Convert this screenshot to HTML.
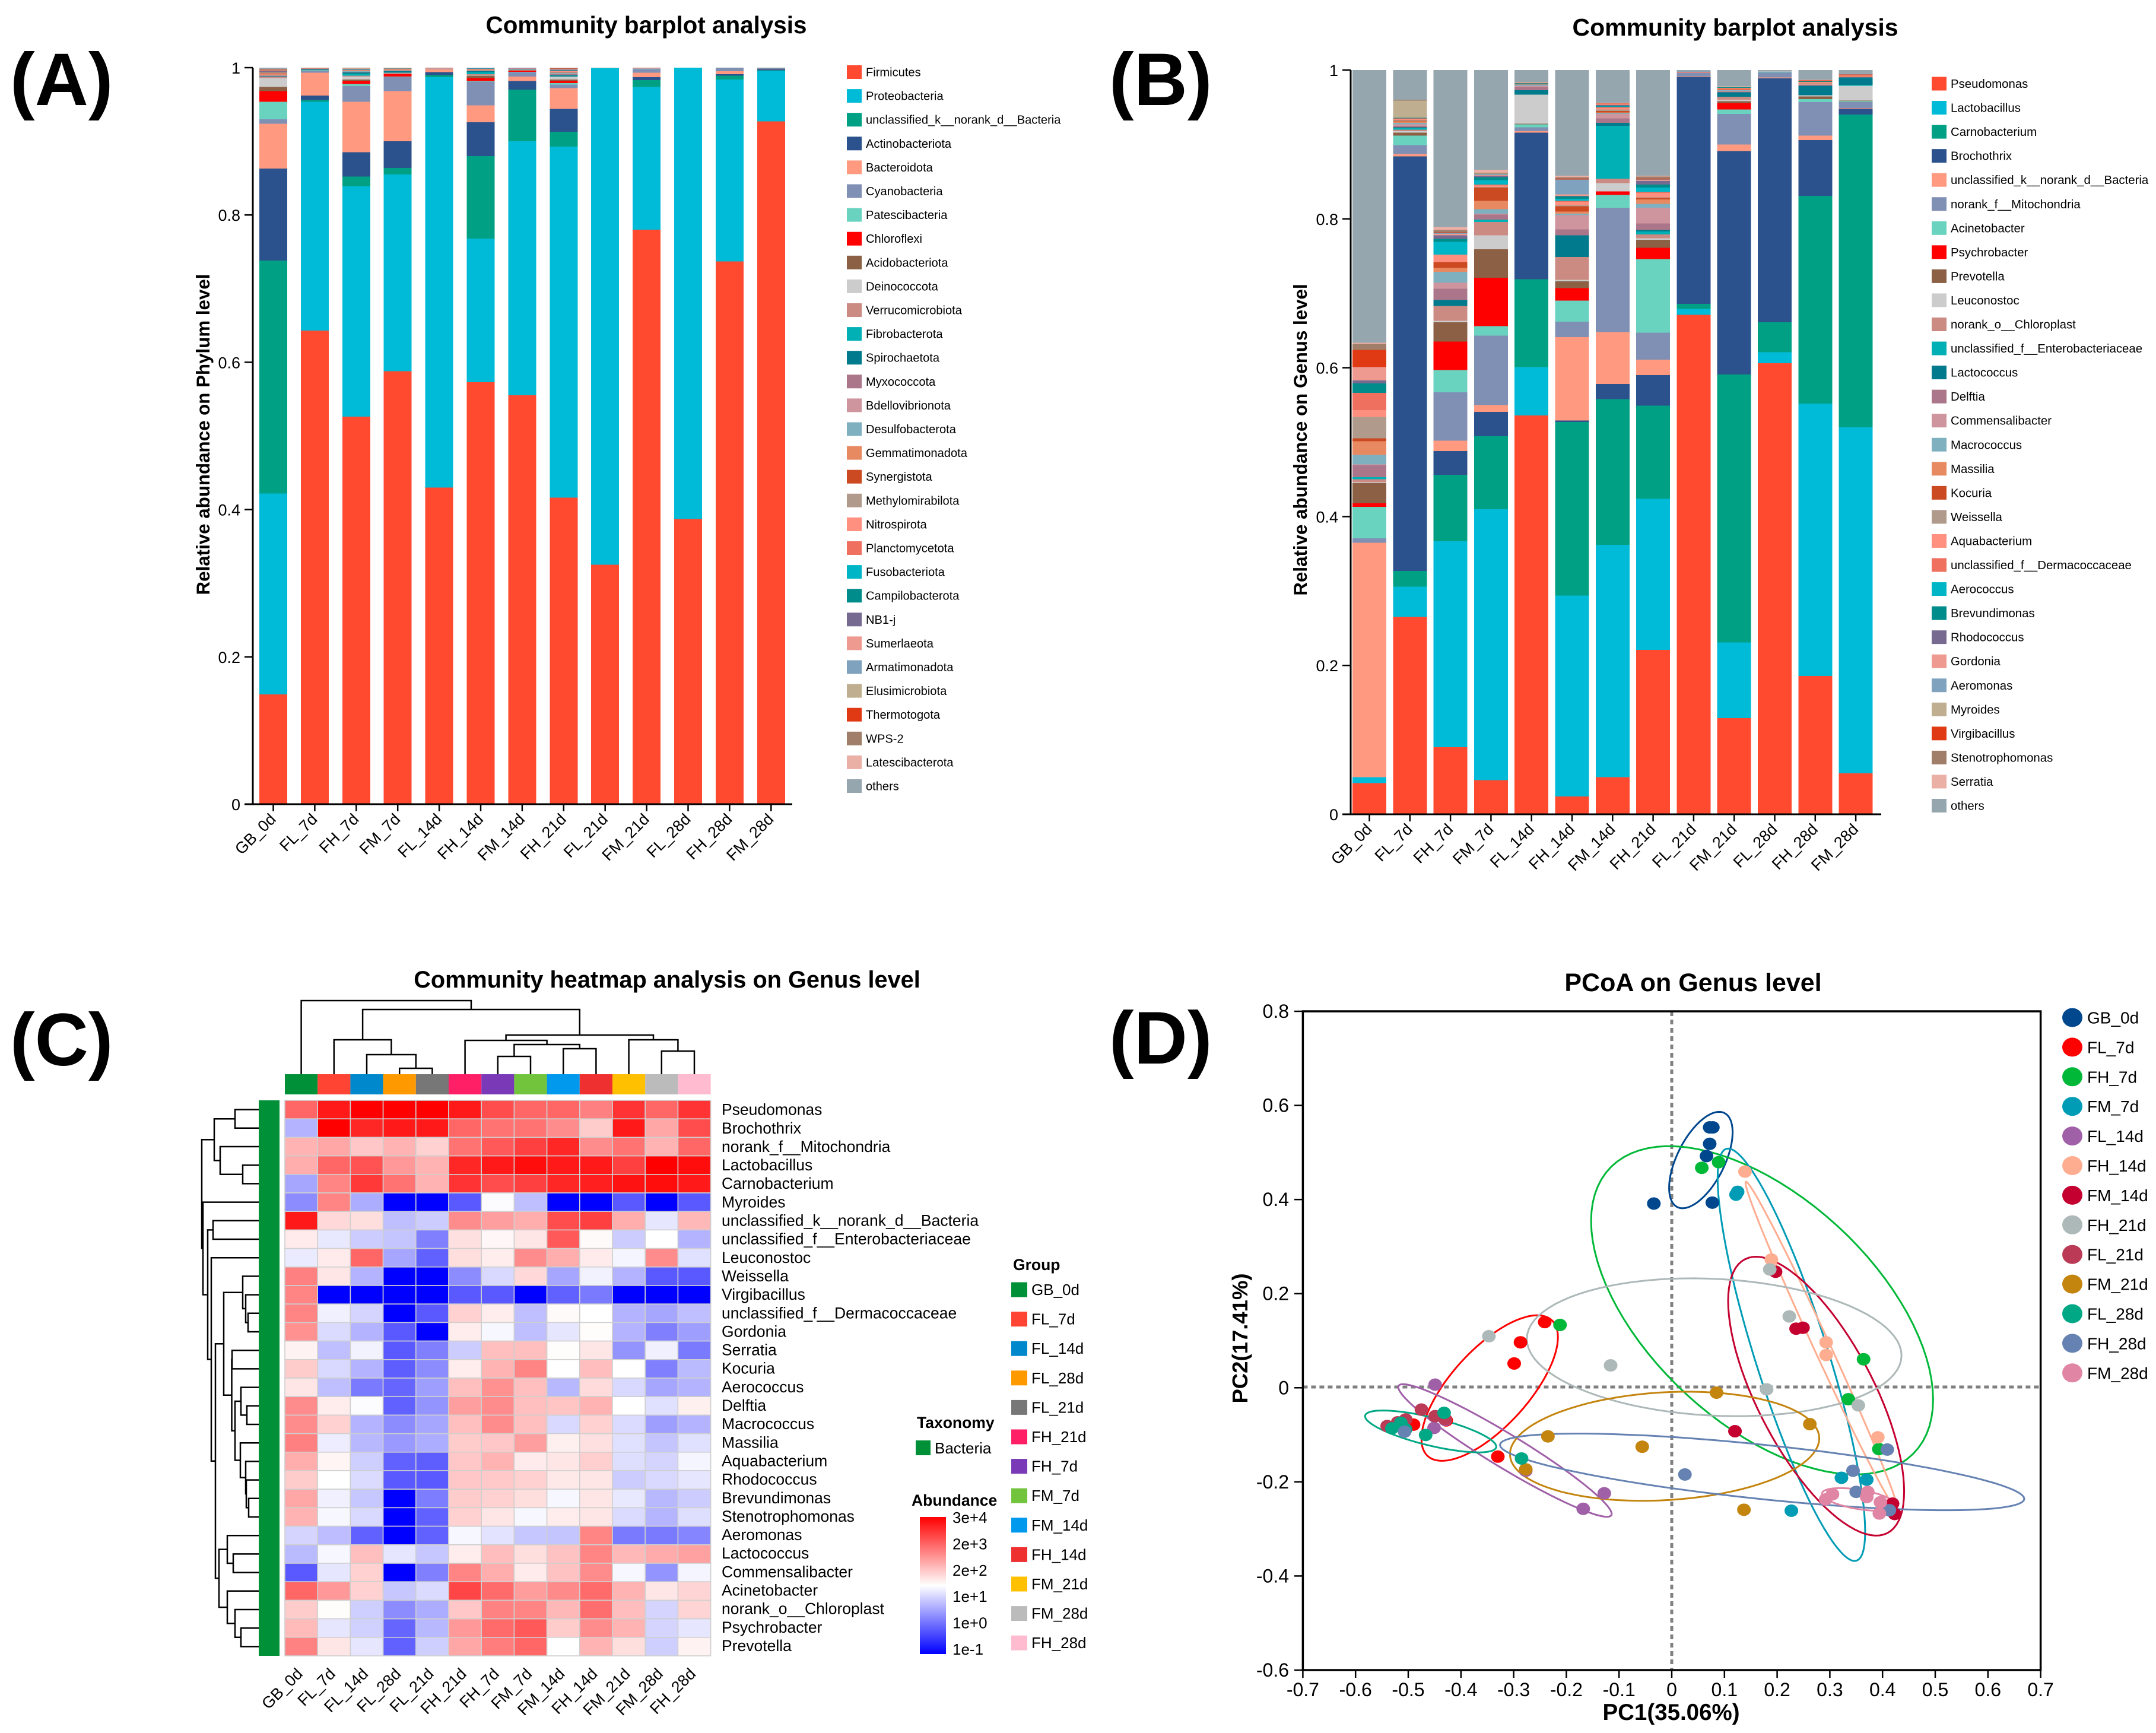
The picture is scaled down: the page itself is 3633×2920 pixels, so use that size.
<!DOCTYPE html>
<html lang="en">
<head>
<meta charset="utf-8">
<title>Community barplot, heatmap and PCoA panels</title>
<style>
html,body{margin:0;padding:0;background:#fff;}
svg{display:block;}
text{font-family:"Liberation Sans",Arial,sans-serif;fill:#000;}
.panel-letter{font-size:125px;font-weight:bold;}
.title{font-size:40.4px;font-weight:bold;text-anchor:middle;}
.axis-title{font-size:31.3px;font-weight:bold;text-anchor:middle;}
.legend-head{font-size:26.5px;font-weight:bold;}
</style>
</head>
<body>
<svg id="figure" xmlns="http://www.w3.org/2000/svg" width="3633" height="2920" viewBox="0 0 3633 2920">
  <rect x="0" y="0" width="3633" height="2920" fill="#fff"/>

  <text class="panel-letter" x="17" y="177">(A)</text>
  <text class="panel-letter" x="1869" y="177">(B)</text>
  <text class="panel-letter" x="17" y="1795">(C)</text>
  <text class="panel-letter" x="1869" y="1792">(D)</text>

  <text class="title" x="1089" y="56">Community barplot analysis</text>
  <text class="title" x="2924" y="60" style="font-size:41px">Community barplot analysis</text>
  <text class="title" x="1124" y="1664" style="font-size:39.7px">Community heatmap analysis on Genus level</text>
  <text class="title" x="2853" y="1670" style="font-size:43px">PCoA on Genus level</text>

  <text class="axis-title" transform="translate(353 732) rotate(-90)">Relative abundance on Phylum level</text>
  <text class="axis-title" transform="translate(2202 741) rotate(-90)">Relative abundance on Genus level</text>
  <text class="axis-title" x="2816" y="2898" style="font-size:38.5px">PC1(35.06%)</text>
  <text class="axis-title" transform="translate(2102 2255) rotate(-90)" style="font-size:36.5px">PC2(17.41%)</text>

  <g id="panel-a"></g>
  <g id="panel-b"></g>
  <g id="panel-c"></g>
  <g id="panel-d"></g>

  <text class="legend-head" x="1707" y="2140">Group</text>
  <text class="legend-head" x="1545" y="2406">Taxonomy</text>
  <rect x="1543" y="2427" width="25" height="25" fill="#009037"/>
  <text x="1575" y="2449" font-size="26">Bacteria</text>
  <text class="legend-head" x="1536" y="2537">Abundance</text>
  <defs>
    <linearGradient id="abundance-gradient" x1="0" y1="0" x2="0" y2="1">
      <stop offset="0" stop-color="#ff0000"/>
      <stop offset="0.5" stop-color="#ffffff"/>
      <stop offset="1" stop-color="#0000ff"/>
    </linearGradient>
  </defs>
  <rect x="1550" y="2556" width="44" height="231" fill="url(#abundance-gradient)"/>
</svg>

<script>
// ---------- shared sample and taxon labels ----------
const barSamples = ['GB_0d','FL_7d','FH_7d','FM_7d','FL_14d','FH_14d','FM_14d','FH_21d','FL_21d','FM_21d','FL_28d','FH_28d','FM_28d'];
const taxonColors = ['#ff4a30','#00bbd8','#00a084','#2b528c','#ff9a80','#8090b5','#6ad3c0','#ff0000','#8b6044','#cccccc','#cb8a82','#00b0b5','#007a8c','#ab7689','#cf959f','#7fb0c0','#e78a62','#cc4a22','#b09a8c','#ff9080','#f07060','#00b6c6','#008c8a','#776a90','#ee9a90','#7fa2be','#bfae90','#e03a14','#a07e6a','#eab0a6','#96a6ae'];
const phylumNames = ['Firmicutes','Proteobacteria','unclassified_k__norank_d__Bacteria','Actinobacteriota','Bacteroidota','Cyanobacteria','Patescibacteria','Chloroflexi','Acidobacteriota','Deinococcota','Verrucomicrobiota','Fibrobacterota','Spirochaetota','Myxococcota','Bdellovibrionota','Desulfobacterota','Gemmatimonadota','Synergistota','Methylomirabilota','Nitrospirota','Planctomycetota','Fusobacteriota','Campilobacterota','NB1-j','Sumerlaeota','Armatimonadota','Elusimicrobiota','Thermotogota','WPS-2','Latescibacterota','others'];
const genusNames = ['Pseudomonas','Lactobacillus','Carnobacterium','Brochothrix','unclassified_k__norank_d__Bacteria','norank_f__Mitochondria','Acinetobacter','Psychrobacter','Prevotella','Leuconostoc','norank_o__Chloroplast','unclassified_f__Enterobacteriaceae','Lactococcus','Delftia','Commensalibacter','Macrococcus','Massilia','Kocuria','Weissella','Aquabacterium','unclassified_f__Dermacoccaceae','Aerococcus','Brevundimonas','Rhodococcus','Gordonia','Aeromonas','Myroides','Virgibacillus','Stenotrophomonas','Serratia','others'];
const barTickValues = [0,0.2,0.4,0.6,0.8,1];
const barTickLabels = ['0','0.2','0.4','0.6','0.8','1'];

// ---------- panel A: cumulative abundance (top of each taxon in the stack) ----------
const phylum_GB_0d  = [.149,.422,.738,.863,.924,.930,.9535,.968,.974,.986,.9875,.988,.9885,.989,.990,.9905,.991,.992,.9925,.993,.9935,.994,.9945,.995,.9955,.996,.9965,.997,.9975,.998,1];
const phylum_FL_7d  = [.643,.9535,.956,.962,.993,.995,.9955,.9956,.996,.9962,.9965,.9966,.9975,.998,.998,.9982,.9984,.9985,.9986,.9988,.999,.9991,.9992,.9993,.9994,.9995,.9996,.9997,.9998,.9999,1];
const phylum_FH_7d  = [.526,.839,.852,.885,.9535,.975,.978,.982,.984,.988,.989,.992,.9935,.994,.9945,.995,.9955,.996,.9965,.997,.9973,.9976,.998,.9983,.9986,.9988,.999,.9993,.9995,.9997,1];
const phylum_FM_7d  = [.588,.855,.864,.900,.968,.987,.988,.991,.992,.9925,.993,.9935,.995,.9955,.996,.9965,.997,.9973,.9976,.998,.9982,.9984,.9986,.9988,.999,.9992,.9994,.9995,.9997,.9998,1];
const phylum_FL_14d = [.430,.987,.990,.994,.998,.9982,.9983,.9984,.9985,.9986,.9987,.9988,.9989,.999,.9991,.9992,.9993,.9994,.9995,.9995,.9996,.9996,.9997,.9997,.9998,.9998,.9998,.9999,.9999,.9999,1];
const phylum_FH_14d = [.573,.768,.880,.926,.949,.981,.982,.986,.989,.990,.991,.994,.995,.9955,.996,.9965,.997,.9973,.9976,.998,.9983,.9986,.9988,.999,.9992,.9994,.9995,.9996,.9997,.9998,1];
const phylum_FM_14d = [.555,.900,.970,.982,.988,.994,.9945,.996,.9965,.997,.9975,.998,.9985,.9988,.999,.9991,.9992,.9993,.9994,.9995,.9995,.9996,.9996,.9997,.9997,.9998,.9998,.9998,.9999,.9999,1];
const phylum_FH_21d = [.416,.893,.913,.944,.972,.977,.979,.982,.984,.987,.988,.989,.990,.991,.992,.993,.9935,.994,.9945,.995,.9955,.996,.9965,.997,.9975,.998,.9983,.9986,.999,.9995,1];
const phylum_FL_21d = [.325,.999,.9991,.9992,.9993,.9993,.9994,.9994,.9995,.9995,.9995,.9996,.9996,.9996,.9997,.9997,.9997,.9997,.9998,.9998,.9998,.9998,.9999,.9999,.9999,.9999,.9999,.9999,1,1,1];
const phylum_FM_21d = [.780,.974,.983,.987,.993,.998,.9982,.9984,.9985,.9986,.9987,.9988,.9989,.999,.9991,.9992,.9993,.9994,.9995,.9995,.9996,.9996,.9997,.9997,.9998,.9998,.9998,.9999,.9999,.9999,1];
const phylum_FL_28d = [.387,1,1,1,1,1,1,1,1,1,1,1,1,1,1,1,1,1,1,1,1,1,1,1,1,1,1,1,1,1,1];
const phylum_FH_28d = [.737,.984,.989,.991,.995,.999,.9991,.9992,.9993,.9993,.9994,.9994,.9995,.9995,.9995,.9996,.9996,.9996,.9997,.9997,.9997,.9997,.9998,.9998,.9998,.9998,.9999,.9999,.9999,.9999,1];
const phylum_FM_28d = [.927,.996,.9962,.998,.9985,.999,.9991,.9992,.9993,.9993,.9994,.9994,.9995,.9995,.9995,.9996,.9996,.9996,.9997,.9997,.9997,.9997,.9998,.9998,.9998,.9998,.9999,.9999,.9999,.9999,1];
const phylumStacks = [phylum_GB_0d,phylum_FL_7d,phylum_FH_7d,phylum_FM_7d,phylum_FL_14d,phylum_FH_14d,phylum_FM_14d,phylum_FH_21d,phylum_FL_21d,phylum_FM_21d,phylum_FL_28d,phylum_FH_28d,phylum_FM_28d];

// ---------- panel B: cumulative abundance (top of each taxon in the stack) ----------
const genus_GB_0d  = [.042,.050,.050,.050,.365,.371,.413,.418,.445,.446,.450,.453,.453,.469,.470,.483,.501,.505,.534,.543,.566,.566,.579,.583,.601,.601,.601,.624,.632,.6335,1];
const genus_FL_7d  = [.265,.306,.327,.884,.887,.899,.912,.912,.916,.918,.920,.922,.923,.925,.927,.929,.931,.932,.933,.934,.935,.935,.936,.936,.936,.936,.959,.959,.960,.960,1];
const genus_FH_7d  = [.090,.367,.456,.488,.502,.567,.597,.635,.661,.663,.683,.683,.691,.706,.714,.729,.734,.742,.742,.752,.752,.769,.773,.778,.780,.781,.781,.782,.785,.789,1];
const genus_FM_7d  = [.046,.410,.508,.5405,.550,.643,.656,.721,.759,.778,.796,.799,.799,.806,.807,.813,.824,.842,.843,.845,.846,.852,.856,.858,.859,.860,.861,.861,.862,.866,1];
const genus_FL_14d = [.536,.601,.719,.916,.918,.923,.927,.927,.928,.967,.967,.967,.973,.977,.979,.980,.980,.980,.981,.981,.981,.981,.982,.982,.982,.982,.982,.982,.983,.984,1];
const genus_FH_14d = [.024,.294,.527,.529,.641,.662,.690,.707,.716,.718,.749,.749,.778,.786,.805,.807,.810,.817,.818,.823,.824,.827,.830,.831,.833,.853,.853,.854,.856,.858,1];
const genus_FM_14d = [.050,.362,.558,.578,.648,.815,.832,.837,.837,.848,.854,.925,.929,.935,.941,.942,.943,.945,.947,.949,.950,.951,.952,.953,.954,.954,.954,.955,.955,.956,1];
const genus_FH_21d = [.221,.424,.549,.590,.611,.647,.746,.761,.772,.774,.779,.783,.785,.794,.815,.820,.826,.828,.829,.835,.836,.842,.846,.851,.852,.853,.853,.854,.857,.858,1];
const genus_FL_21d = [.671,.679,.686,.991,.9915,.996,.996,.996,.996,.996,.9965,.9965,.9965,.997,.997,.997,.997,.997,.997,.9975,.9975,.9975,.9975,.9975,.9975,.998,.998,.998,.998,.998,1];
const genus_FM_21d = [.129,.231,.591,.891,.900,.941,.947,.9555,.958,.960,.964,.964,.970,.971,.972,.973,.974,.975,.975,.976,.976,.976,.977,.977,.977,.977,.977,.977,.977,.978,1];
const genus_FL_28d = [.606,.621,.661,.989,.990,.997,.9975,.9975,.9975,.998,.998,.998,.998,.998,.998,.9985,.9985,.9985,.9985,.999,.999,.999,.999,.999,.999,.999,.999,.999,.999,.999,1];
const genus_FH_28d = [.186,.552,.831,.906,.912,.957,.961,.961,.9645,.966,.966,.966,.979,.980,.981,.981,.982,.982,.983,.984,.984,.984,.985,.985,.985,.985,.985,.986,.986,.987,1];
const genus_FM_28d = [.055,.520,.940,.948,.949,.957,.958,.958,.959,.979,.979,.980,.990,.991,.991,.991,.992,.992,.992,.993,.993,.993,.993,.993,.993,.993,.993,.994,.994,.994,1];
const genusStacks = [genus_GB_0d,genus_FL_7d,genus_FH_7d,genus_FM_7d,genus_FL_14d,genus_FH_14d,genus_FM_14d,genus_FH_21d,genus_FL_21d,genus_FM_21d,genus_FL_28d,genus_FH_28d,genus_FM_28d];

// ---------- panel C: heatmap values on a -10 (blue) .. 0 (white) .. +10 (red) scale ----------
const heatColumns = ['GB_0d','FL_7d','FL_14d','FL_28d','FL_21d','FH_21d','FH_7d','FM_7d','FM_14d','FH_14d','FM_21d','FM_28d','FH_28d'];
const heatColumnColors = ['#009037','#ff4433','#0088cc','#ff9900','#777777','#ff1f66','#7a3ab8','#72c43c','#0099ee','#ee3030','#ffc000','#bbbbbb','#ffbbd0'];
const heatRowNames = ['Pseudomonas','Brochothrix','norank_f__Mitochondria','Lactobacillus','Carnobacterium','Myroides','unclassified_k__norank_d__Bacteria','unclassified_f__Enterobacteriaceae','Leuconostoc','Weissella','Virgibacillus','unclassified_f__Dermacoccaceae','Gordonia','Serratia','Kocuria','Aerococcus','Delftia','Macrococcus','Massilia','Aquabacterium','Rhodococcus','Brevundimonas','Stenotrophomonas','Aeromonas','Lactococcus','Commensalibacter','Acinetobacter','norank_o__Chloroplast','Psychrobacter','Prevotella'];
const heat_Pseudomonas = [6,9,10,10,10,9,7,6,6,5,8,6,8];
const heat_Brochothrix = [-3,10,8.5,9,9,6,5.5,5.5,4.5,2,9,3.5,7];
const heat_Mitochondria = [3,3.5,2.2,3,1.8,5.5,6.5,7.5,8.5,4.5,5.5,3,6];
const heat_Lactobacillus = [3.2,6,6.8,4,3,8.5,9,9.5,9,9,7.5,10,9.5];
const heat_Carnobacterium = [-3.5,4.8,7.8,5.5,3,8,7,7.5,8.5,8.8,9.3,9.5,9];
const heat_Myroides = [-4.5,4.8,-3.2,-10,-10,-6.5,-0.1,-2.5,-10,-10,-6.5,-10,-6.5];
const heat_UnclassBacteria = [9,1.5,1.3,-2.5,-2,4.5,3.8,3.2,7,7.5,3.2,-1,2.8];
const heat_Enterobacteriaceae = [.8,-.9,-2,-2.3,-5,1.2,.3,1,6.5,.2,-2,0,-3];
const heat_Leuconostoc = [-.8,.8,6,-3.5,-6.2,1.3,.7,4.5,3.2,.8,-.4,4.5,-1.2];
const heat_Weissella = [5,1,-3,-10,-10,-4.5,-1.5,1.5,-3.5,-.5,-3,-6.5,-6.5];
const heat_Virgibacillus = [4.8,-10,-10,-10,-10,-6.5,-6.5,-10,-6.2,-5.2,-10,-10,-10];
const heat_Dermacoccaceae = [4.8,-.6,-1.7,-10,-6.5,1.8,.7,-2.5,.2,0,-3,-3.5,-2.5];
const heat_Gordonia = [4.3,-1.4,-3,-6.5,-10,.7,-.3,-2.5,-1,.1,-3,-5,-3.8];
const heat_Serratia = [.5,-2.5,-.5,-6.5,-5,-2,2.5,2.5,.1,1,-4.2,-.6,-5.2];
const heat_Kocuria = [2,-1.5,-3,-6.3,-4.5,.7,3,4.8,0,2.6,0,-5,-2.7];
const heat_Aerococcus = [1,-2.5,-5.2,-6,-3.8,2.5,4.3,2.5,-2.8,1.4,-1.5,-3.5,-3];
const heat_Delftia = [4.5,.7,-.1,-6.2,-4.2,3.8,4.5,2.5,2.3,3,0,-1.2,.6];
const heat_Macrococcus = [4.5,1.8,-3,-4.5,-3.5,2.5,4.5,2.5,-1.5,1.8,-1.4,-3.8,-3];
const heat_Massilia = [5,-.7,-2.8,-4,-3.2,2,2.2,3.8,.6,1.2,-1.2,-2.3,-1.2];
const heat_Aquabacterium = [3.2,.4,-1.9,-6.2,-6.3,2.2,3,.8,1,1.9,-1.3,-1.7,-.4];
const heat_Rhodococcus = [2,0,-1.4,-6.5,-6.5,2.2,2.1,1.8,.9,1,-2,-1.5,-1];
const heat_Brevundimonas = [3.5,-.6,-2.2,-10,-5.1,2,1.8,1.3,-.3,1,-.9,-2.8,-2];
const heat_Stenotrophomonas = [3,-.3,-1.5,-10,-6.2,1.8,1,-.3,.7,1,-1.4,-2.9,-1.3];
const heat_Aeromonas = [-1.7,-2.6,-6.2,-10,-6.2,-.3,-1.1,-2.2,-2.3,4.8,-5.2,-5.2,-4.8];
const heat_Lactococcus = [-2.7,-.3,2.5,-1,-2.2,.7,2.6,1.3,2.4,4.8,2.8,3.3,3.7];
const heat_Commensalibacter = [-6.5,-1,1.8,-10,-5,4.8,3.2,.8,2.4,4.5,-.3,-4.2,-.4];
const heat_Acinetobacter = [6,4,1.8,-2.2,-1.4,7.3,5.8,3.9,4.6,5.8,3,1,1.7];
const heat_Chloroplast = [2,.1,-1.9,-4.5,-3.2,2.2,4.9,4.8,2.8,5.7,2.6,-1.7,1.7];
const heat_Psychrobacter = [2.7,-1,-1.8,-6,-2.8,4,5.8,6.5,2,4.5,3,-1.7,-1];
const heat_Prevotella = [4.9,1,-1,-6.2,-1.9,3.5,5.1,6,0,3,1.3,-1.9,.5];
const heatValues = [heat_Pseudomonas,heat_Brochothrix,heat_Mitochondria,heat_Lactobacillus,heat_Carnobacterium,heat_Myroides,heat_UnclassBacteria,heat_Enterobacteriaceae,heat_Leuconostoc,heat_Weissella,heat_Virgibacillus,heat_Dermacoccaceae,heat_Gordonia,heat_Serratia,heat_Kocuria,heat_Aerococcus,heat_Delftia,heat_Macrococcus,heat_Massilia,heat_Aquabacterium,heat_Rhodococcus,heat_Brevundimonas,heat_Stenotrophomonas,heat_Aeromonas,heat_Lactococcus,heat_Commensalibacter,heat_Acinetobacter,heat_Chloroplast,heat_Psychrobacter,heat_Prevotella];
const groupLegendLabels = ['GB_0d','FL_7d','FL_14d','FL_28d','FL_21d','FH_21d','FH_7d','FM_7d','FM_14d','FH_14d','FM_21d','FM_28d','FH_28d'];
const abundanceLabels = ['3e+4','2e+3','2e+2','1e+1','1e+0','1e-1'];
// dendrogram merges: [left, right, distance]; a negative id refers to an earlier merge (1-based)
const rowMerges = [[0,1,40],[3,4,27],[2,-2,65],[-1,-3,75],[6,7,77],[11,12,18],[10,-6,22],[9,-7,27],[13,14,45],[16,17,20],[15,-10,30],[21,22,17],[20,-12,21],[19,-13,22],[18,-14,31],[-11,-15,40],[-9,-16,45.5],[-8,-17,59],[24,25,43],[23,-19,53],[28,29,30],[27,-21,40],[26,-22,53],[-20,-23,67],[-18,-24,73],[8,-25,80],[-5,-26,86],[5,-27,94],[-4,-28,96]];
const columnMerges = [[3,4,10],[2,-1,33],[1,-2,58],[6,7,30],[8,9,43],[-4,-5,50],[5,-6,57],[11,12,39],[10,-8,58],[-7,-9,66],[-3,-10,109],[0,-11,124]];

// ---------- panel D: PCoA coordinates ----------
const pcoaGroups = ['GB_0d','FL_7d','FH_7d','FM_7d','FL_14d','FH_14d','FM_14d','FH_21d','FL_21d','FM_21d','FL_28d','FH_28d','FM_28d'];
const pcoaColors = ['#00478e','#ff0000','#00b838','#009bb5','#a060a8','#ffad90','#c40030','#adb8b8','#bb3a55','#c4850f','#00a886','#6582b2','#e085a3'];
const pcoaXTicks = [-0.7,-0.6,-0.5,-0.4,-0.3,-0.2,-0.1,0,0.1,0.2,0.3,0.4,0.5,0.6,0.7];
const pcoaXTickLabels = ['-0.7','-0.6','-0.5','-0.4','-0.3','-0.2','-0.1','0','0.1','0.2','0.3','0.4','0.5','0.6','0.7'];
const pcoaYTicks = [0.8,0.6,0.4,0.2,0,-0.2,-0.4,-0.6];
const pcoaYTickLabels = ['0.8','0.6','0.4','0.2','0','-0.2','-0.4','-0.6'];
const pc1_GB_0d = [.072,.078,.072,.066,.077,-.034];
const pc2_GB_0d = [.552,.552,.517,.491,.392,.390];
const pc1_FL_7d = [-.241,-.287,-.299,-.330,-.490,-.428];
const pc2_FL_7d = [.138,.095,.050,-.148,-.080,-.071];
const pc1_FH_7d = [-.212,.057,.089,.364,.335,.393];
const pc2_FH_7d = [.132,.466,.478,.059,-.026,-.132];
const pc1_FM_7d = [.122,.125,.322,.370,.227];
const pc2_FM_7d = [.409,.415,-.193,-.197,-.263];
const pc1_FL_14d = [-.449,-.451,-.430,-.277,-.128,-.168];
const pc2_FL_14d = [.005,-.087,-.070,-.178,-.226,-.259];
const pc1_FH_14d = [.139,.189,.293,.293,.391];
const pc2_FH_14d = [.458,.271,.095,.068,-.107];
const pc1_FM_14d = [.197,.236,.249,.120,.419,.423];
const pc2_FM_14d = [.245,.124,.126,-.094,-.248,-.270];
const pc1_FH_21d = [-.347,-.116,.186,.223,.180,.354];
const pc2_FH_21d = [.108,.046,.250,.150,-.005,-.039];
const pc1_FL_21d = [-.475,-.449,-.505,-.540,-.520,-.430];
const pc2_FL_21d = [-.048,-.062,-.069,-.083,-.075,-.068];
const pc1_FM_21d = [.085,.262,-.235,-.056,-.277,.137];
const pc2_FM_21d = [-.012,-.079,-.105,-.127,-.175,-.261];
const pc1_FL_28d = [-.432,-.467,-.285,-.514,-.531,-.505];
const pc2_FL_28d = [-.055,-.102,-.152,-.076,-.088,-.090];
const pc1_FH_28d = [.025,.344,.350,.409,.413,-.507];
const pc2_FH_28d = [-.186,-.178,-.223,-.133,-.262,-.095];
const pc1_FM_28d = [.292,.305,.372,.370,.396,.394];
const pc2_FM_28d = [-.239,-.228,-.223,-.234,-.245,-.269];
const pc1Values = [pc1_GB_0d,pc1_FL_7d,pc1_FH_7d,pc1_FM_7d,pc1_FL_14d,pc1_FH_14d,pc1_FM_14d,pc1_FH_21d,pc1_FL_21d,pc1_FM_21d,pc1_FL_28d,pc1_FH_28d,pc1_FM_28d];
const pc2Values = [pc2_GB_0d,pc2_FL_7d,pc2_FH_7d,pc2_FM_7d,pc2_FL_14d,pc2_FH_14d,pc2_FM_14d,pc2_FH_21d,pc2_FL_21d,pc2_FM_21d,pc2_FL_28d,pc2_FH_28d,pc2_FM_28d];
// confidence ellipses: [pc1 min, pc1 max, pc2 min, pc2 max, pc1 at the pc2 maximum]
const ellipse_GB_0d = [-.005,.1155,.380,.585,.090];
const ellipse_FL_7d = [-.475,-.216,-.157,.1525,-.255];
const ellipse_FH_7d = [-.153,.496,-.186,.512,-.005];
const ellipse_FM_7d = [.087,.367,-.370,.507,.107];
const ellipse_FL_14d = [-.519,-.114,-.276,.006,-.510];
const ellipse_FH_14d = [.140,.428,-.260,.4365,.141];
const ellipse_FM_14d = [.107,.441,-.316,.277,.160];
const ellipse_FH_21d = [-.275,.436,-.062,.231,.038];
const ellipse_FM_21d = [-.307,.280,-.242,-.010,.029];
const ellipse_FL_28d = [-.582,-.333,-.139,-.050,-.548];
const ellipse_FH_28d = [-.326,.669,-.262,-.099,-.178];
const ellipse_FM_28d = [.285,.425,-.263,-.215,.320];
const ellipseGroups = ['GB_0d','FL_7d','FH_7d','FM_7d','FL_14d','FH_14d','FM_14d','FH_21d','FM_21d','FL_28d','FH_28d','FM_28d'];
const ellipseShapes = [ellipse_GB_0d,ellipse_FL_7d,ellipse_FH_7d,ellipse_FM_7d,ellipse_FL_14d,ellipse_FH_14d,ellipse_FM_14d,ellipse_FH_21d,ellipse_FM_21d,ellipse_FL_28d,ellipse_FH_28d,ellipse_FM_28d];

// ---------- drawing helpers ----------
const SVG_NS = 'http://www.w3.org/2000/svg';
function make(parent, tag, attrs, content) {
  const node = document.createElementNS(SVG_NS, tag);
  for (const key in attrs) node.setAttribute(key, attrs[key]);
  if (content !== undefined) node.textContent = content;
  parent.appendChild(node);
  return node;
}
function lineOf(parent, x1, y1, x2, y2, width, color) {
  return make(parent, 'line', {x1: x1, y1: y1, x2: x2, y2: y2, stroke: color || '#000', 'stroke-width': width});
}

// ---------- stacked bars (panels A and B) ----------
function drawStacked(parent, opt) {
  const xOf = i => opt.firstCenter + i * opt.step;
  const yOf = v => opt.yZero - v * opt.yLen;
  opt.stacks.forEach((tops, i) => {
    let prev = 0;
    tops.forEach((top, k) => {
      if (top > prev) {
        const seg = make(parent, 'rect', {x: xOf(i) - opt.barWidth / 2, y: yOf(top), width: opt.barWidth, height: yOf(prev) - yOf(top), fill: taxonColors[k], 'shape-rendering': 'crispEdges'});
        
        
      }
      prev = top;
    });
  });
  const yAxis = lineOf(parent, opt.axisX, yOf(1), opt.axisX, yOf(0), 3);
  
  
  const xAxis = lineOf(parent, opt.axisX - 14, yOf(0), opt.axisEnd, yOf(0), 3);
  
  
  barTickValues.forEach((v, i) => {
    const tick = lineOf(parent, opt.axisX - 14, yOf(v), opt.axisX, yOf(v), 2.5);
    
    
    const label = make(parent, 'text', {x: opt.axisX - 21, y: yOf(v) + 10, 'text-anchor': 'end', 'font-size': 27}, barTickLabels[i]);
    
    
  });
  barSamples.forEach((s, i) => {
    const tick = lineOf(parent, xOf(i), yOf(0), xOf(i), yOf(0) + 12, 2.5);
    
    
    const lx = xOf(i) + 6, ly = yOf(0) + 27;
    const label = make(parent, 'text', {x: lx, y: ly, 'text-anchor': 'end', 'font-size': 27, transform: 'rotate(-45 ' + lx + ' ' + ly + ')'}, s);
    
    
  });
  opt.names.forEach((n, k) => {
    const cy = opt.legendY + k * opt.legendStep;
    const swatch = make(parent, 'rect', {x: opt.legendX, y: cy - 11.5, width: 25, height: 23, fill: taxonColors[k]});
    
    
    const label = make(parent, 'text', {x: opt.legendX + 32, y: cy + 7, 'font-size': opt.legendFont}, n);
    
    
  });
}
drawStacked(document.getElementById('panel-a'), {stacks: phylumStacks, names: phylumNames, firstCenter: 460.5, step: 69.9, barWidth: 47, yZero: 1355, yLen: 1241, axisX: 426, axisEnd: 1335, legendX: 1427, legendY: 121.5, legendStep: 40.1, legendFont: 20.1});
drawStacked(document.getElementById('panel-b'), {stacks: genusStacks, names: genusNames, firstCenter: 2307.5, step: 68.3, barWidth: 57, yZero: 1372, yLen: 1254, axisX: 2276, axisEnd: 3170, legendX: 3255, legendY: 141, legendStep: 40.55, legendFont: 20.4});

// ---------- heatmap (panel C) ----------
const panelC = document.getElementById('panel-c');
const heatLeft = 480, heatTop = 1854, cellW = 55.2, cellH = 31.2;
const colCenter = c => heatLeft + cellW * (c + 0.5);
const rowCenter = r => heatTop + cellH * (r + 0.5);
function heatColor(v) {
  const t = Math.min(1, Math.abs(v) / 10);
  const c = Math.round(255 * (1 - t));
  return v >= 0 ? 'rgb(255,' + c + ',' + c + ')' : 'rgb(' + c + ',' + c + ',255)';
}
heatValues.forEach((row, r) => {
  row.forEach((v, c) => {
    const cell = make(panelC, 'rect', {x: heatLeft + c * cellW, y: heatTop + r * cellH, width: cellW, height: cellH, fill: heatColor(v), stroke: '#cfcfcf', 'stroke-width': 1.6});
    
    
  });
  const label = make(panelC, 'text', {x: 1216, y: rowCenter(r) + 9 - r * 0.05, 'font-size': 26.5}, heatRowNames[r]);
  
  
});
heatColumns.forEach((name, c) => {
  const strip = make(panelC, 'rect', {x: heatLeft + c * cellW, y: 1810, width: cellW, height: 34, fill: heatColumnColors[c]});
  
  
  const lx = colCenter(c) + 4, ly = 2822;
  const label = make(panelC, 'text', {x: lx, y: ly, 'text-anchor': 'end', 'font-size': 27, transform: 'rotate(-45 ' + lx + ' ' + ly + ')'}, name);
  
  
});
const taxonomyStrip = make(panelC, 'rect', {x: 436, y: heatTop, width: 35, height: 30 * cellH, fill: '#009037'});



function drawDendrogram(merges, leafPos, base, horizontal, width) {
  const nodes = [];
  const resolve = id => id >= 0 ? {pos: leafPos(id), dist: 0} : nodes[-id - 1];
  let d = '';
  merges.forEach(m => {
    const a = resolve(m[0]), b = resolve(m[1]), h = m[2];
    if (horizontal) {
      d += 'M' + (base - a.dist) + ' ' + a.pos + 'H' + (base - h) + 'V' + b.pos + 'H' + (base - b.dist);
    } else {
      d += 'M' + a.pos + ' ' + (base - a.dist) + 'V' + (base - h) + 'H' + b.pos + 'V' + (base - b.dist);
    }
    nodes.push({pos: (a.pos + b.pos) / 2, dist: h});
  });
  return make(panelC, 'path', {d: d, fill: 'none', stroke: '#000', 'stroke-width': width});
}
const rowTree = drawDendrogram(rowMerges, rowCenter, 436, true, 2.5);


const colTree = drawDendrogram(columnMerges, colCenter, 1810, false, 2.5);



groupLegendLabels.forEach((name, i) => {
  const cy = 2173 + i * 49.6;
  const swatch = make(panelC, 'rect', {x: 1704, y: cy - 12.5, width: 27, height: 25, fill: heatColumnColors[i]});
  
  
  const label = make(panelC, 'text', {x: 1738, y: cy + 9, 'font-size': 26}, name);
  
  
});
abundanceLabels.forEach((text, i) => {
  const label = make(panelC, 'text', {x: 1605, y: 2557 + i * 44.4 + 9, 'font-size': 26}, text);
  
  
});

// ---------- PCoA (panel D) ----------
const panelD = document.getElementById('panel-d');
const pcX = v => 2817 + 888 * v;
const pcY = v => 2337 - 792.5 * v;
const zeroH = make(panelD, 'line', {x1: pcX(-0.7), y1: pcY(0), x2: pcX(0.7), y2: pcY(0), stroke: '#808080', 'stroke-width': 5, 'stroke-dasharray': '8 6'});


const zeroV = make(panelD, 'line', {x1: pcX(0), y1: 1704, x2: pcX(0), y2: 2814, stroke: '#808080', 'stroke-width': 5, 'stroke-dasharray': '8 6'});


const frame = make(panelD, 'rect', {x: pcX(-0.7), y: 1704, width: pcX(0.7) - pcX(-0.7), height: 1110, fill: 'none', stroke: '#000', 'stroke-width': 3.5});


pcoaXTicks.forEach((v, i) => {
  const tick = lineOf(panelD, pcX(v), 2814, pcX(v), 2827, 2.5);
  
  
  const label = make(panelD, 'text', {x: pcX(v), y: 2858, 'text-anchor': 'middle', 'font-size': 32}, pcoaXTickLabels[i]);
  
  
});
pcoaYTicks.forEach((v, i) => {
  const y = 1704 + (0.8 - v) * 792.86;
  const tick = lineOf(panelD, 2181, y, 2195, y, 2.5);
  
  
  const label = make(panelD, 'text', {x: 2172, y: y + 11, 'text-anchor': 'end', 'font-size': 32}, pcoaYTickLabels[i]);
  
  
});
ellipseShapes.forEach((e, i) => {
  const cx = (e[0] + e[1]) / 2, hx = (e[1] - e[0]) / 2;
  const cy = (e[2] + e[3]) / 2, hy = (e[3] - e[2]) / 2;
  const phi = Math.acos(Math.max(-1, Math.min(1, (e[4] - cx) / hx)));
  let d = '';
  for (let deg = 0; deg <= 360; deg += 4) {
    const t = deg * Math.PI / 180;
    d += (deg ? 'L' : 'M') + pcX(cx + hx * Math.cos(t)).toFixed(1) + ' ' + pcY(cy + hy * Math.cos(t - phi)).toFixed(1);
  }
  const color = pcoaColors[pcoaGroups.indexOf(ellipseGroups[i])];
  const ring = make(panelD, 'path', {d: d + 'Z', fill: 'none', stroke: color, 'stroke-width': 3});
  
  
});
pc1Values.forEach((xs, g) => {
  xs.forEach((x, i) => {
    const dot = make(panelD, 'ellipse', {cx: pcX(x), cy: pcY(pc2Values[g][i]), rx: 11.5, ry: 10.5, fill: pcoaColors[g]});
    
    
  });
  const ly = 1714.5 + g * 49.9;
  const key = make(panelD, 'ellipse', {cx: 3492, cy: ly, rx: 17, ry: 16, fill: pcoaColors[g]});
  
  
  const label = make(panelD, 'text', {x: 3517, y: ly + 10, 'font-size': 28}, pcoaGroups[g]);
  
  
});
</script>
</body>
</html>
